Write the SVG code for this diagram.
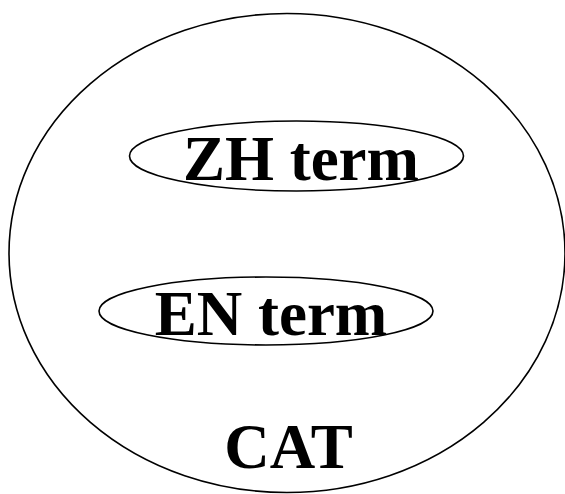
<svg xmlns="http://www.w3.org/2000/svg" width="565" height="494" viewBox="0 0 565 494">
  <style>
    .shape { fill: none; stroke: #000; stroke-width: 1.6; }
    .label { font-family: "Liberation Serif", "Times New Roman", serif; font-weight: bold; font-size: 63px; fill: #000; text-anchor: middle; }
  </style>
  <rect width="565" height="494" fill="#fff"/>
  <g id="cat">
    <ellipse class="shape" cx="287" cy="253" rx="278" ry="239.5"/>
    <text class="label" x="288.5" y="468">CAT</text>
  </g>
  <g id="zh-term">
    <ellipse class="shape" cx="296.5" cy="156" rx="167" ry="35"/>
    <text class="label" x="301" y="180">ZH term</text>
  </g>
  <g id="en-term">
    <ellipse class="shape" cx="266" cy="311" rx="167" ry="34"/>
    <text class="label" x="271" y="335">EN term</text>
  </g>
  <g id="connectors"/>
</svg>
